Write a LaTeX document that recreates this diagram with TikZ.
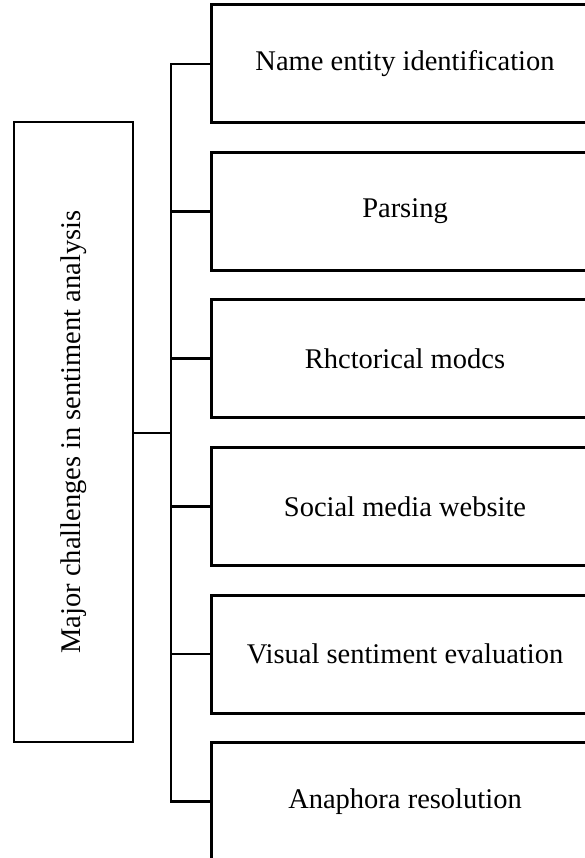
\documentclass[tikz,border=0pt]{standalone}
\usepackage{fontspec}
\setmainfont{Liberation Serif}
\begin{document}
\begin{tikzpicture}[x=1pt,y=-1pt,
  challenge/.style={draw, line width=3pt, minimum width=387pt, minimum height=118pt,
    anchor=west, inner sep=0pt, font=\fontsize{28.5}{34}\selectfont},
  topic/.style={draw, line width=2.6pt, minimum width=119pt, minimum height=620pt,
    inner sep=0pt},
  link/.style={line width=2.8pt},
  feed/.style={line width=2pt}]
\clip (0,0) rectangle (585,858);
\useasboundingbox (0,0) rectangle (585,858);

% root box with vertical caption
\node[topic] (root) at (73.5,432) {};
\node[rotate=90, font=\fontsize{28.5}{34}\selectfont] (roottext) at (root.center) {Major challenges in sentiment analysis};

% the six challenges
\node[challenge] (c1) at (210,64) {Name entity identification};
\node[challenge] (c2) at (210,211.5) {Parsing};
\node[challenge] (c3) at (210,358.5) {Rhctorical modcs};
\node[challenge] (c4) at (210,506.5) {Social media website};
\node[challenge] (c5) at (210,654) {Visual sentiment evaluation};
\node[challenge] (c6) at (210,801.5) {Anaphora resolution};

% trunk and branches
\coordinate (top) at (171,64);
\coordinate (bot) at (171,801.5);
\coordinate (hub) at (171,432.5);
\draw[feed] (root.east |- hub) -- (hub);
\draw[link, line cap=rect] (c1.west) -- (top) -- (bot) -- (c6.west);
\foreach \n in {c2,c3,c4,c5}
  \draw[link] (\n.west) -- (top |- \n.west);
\end{tikzpicture}
\end{document}
